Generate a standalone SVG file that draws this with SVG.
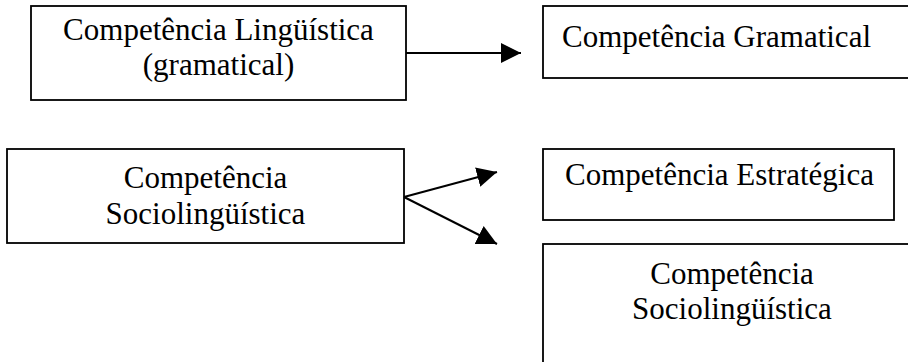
<svg xmlns="http://www.w3.org/2000/svg" width="908" height="362" viewBox="0 0 908 362">
  <style>
    .box { fill: #ffffff; stroke: #000000; stroke-width: 1.8; }
    .lbl { font-family: "Liberation Serif", "Times New Roman", serif; font-size: 31px; fill: #000000; }
    .mid { text-anchor: middle; }
    .link { stroke: #000000; stroke-width: 2; fill: none; marker-end: url(#head); }
  </style>
  <defs>
    <marker id="head" markerUnits="userSpaceOnUse" markerWidth="20" markerHeight="20" refX="20" refY="10" orient="auto">
      <path d="M0,0 L20,10 L0,20 z" fill="#000000"/>
    </marker>
  </defs>
  <rect width="908" height="362" fill="#ffffff"/>

  <g id="linguistica">
    <rect class="box" x="31" y="6" width="375" height="94"/>
    <text class="lbl mid" x="218.5" y="40">Competência Lingüística</text>
    <text class="lbl mid" x="218.5" y="75">(gramatical)</text>
  </g>

  <g id="gramatical">
    <rect class="box" x="543" y="6" width="380" height="72"/>
    <text class="lbl" x="562" y="47">Competência Gramatical</text>
  </g>

  <g id="sociolinguistica-left">
    <rect class="box" x="7" y="149" width="397" height="94"/>
    <text class="lbl mid" x="205.5" y="188">Competência</text>
    <text class="lbl mid" x="205.5" y="224">Sociolingüística</text>
  </g>

  <g id="estrategica">
    <rect class="box" x="543" y="149" width="351" height="71"/>
    <text class="lbl" x="565" y="185">Competência Estratégica</text>
  </g>

  <g id="sociolinguistica-right">
    <rect class="box" x="543" y="244" width="380" height="140"/>
    <text class="lbl mid" x="732" y="284">Competência</text>
    <text class="lbl mid" x="732" y="319">Sociolingüística</text>
  </g>

  <g id="connectors">
    <line class="link" x1="406" y1="53" x2="521" y2="53"/>
    <line class="link" x1="404" y1="197" x2="497" y2="172"/>
    <line class="link" x1="404" y1="197" x2="497" y2="244"/>
  </g>
</svg>
